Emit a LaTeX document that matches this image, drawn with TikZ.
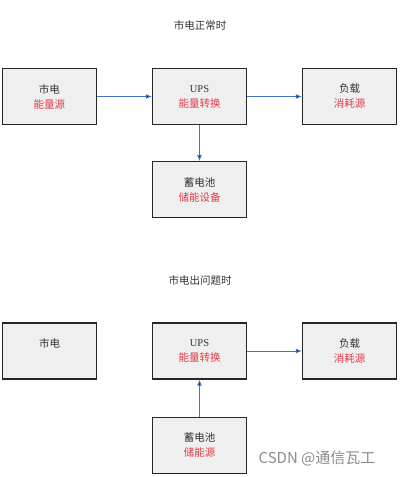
\documentclass[tikz,border=0pt]{standalone}
\usepackage{fontspec}
\setmainfont{Liberation Serif}
\newfontfamily\cjk{Noto Sans CJK SC}
\usetikzlibrary{arrows.meta,positioning}
\definecolor{boxgray}{HTML}{EFEFEF}
\definecolor{textgray}{HTML}{333333}
\definecolor{notered}{HTML}{E23B45}
\definecolor{flowblue}{HTML}{4472C4}
\newcommand{\red}[1]{\textcolor{notered}{#1}}

\begin{document}
\begin{tikzpicture}[x=1pt, y=-1pt, node distance={36pt and 54.8pt},
    main/.style = {draw=black!85, line width=1.2pt, fill=boxgray, minimum width=94pt, minimum height=56pt,
        align=center, text=textgray, font=\cjk\fontsize{10.5}{15}\selectfont},
    title/.style = {text=textgray, font=\cjk\fontsize{10.5}{12}\selectfont},
    flow/.style = {-{Latex[length=6pt,width=5pt]}, draw=flowblue, line width=0.9pt}]
    \useasboundingbox (0,0) rectangle (401,477);

    % normal mains
    \node[title] (t1) at (200,25) {市电正常时};
    \node[main] (mains) at (49.5,96.5) {市电\\\red{能量源}};
    \node[main] (ups) [right=of mains] {{\rmfamily UPS}\\\red{能量转换}};
    \node[main] (load) [right=of ups] {负载\\\red{消耗源}};
    \node[main] (batt) [below=of ups] {蓄电池\\\red{储能设备}};

    \path[flow] (mains) edge (ups);
    \path[flow] (ups) edge (load);
    \path[flow] (ups) edge (batt);

    % mains failure
    \node[title] (t2) at (200,280) {市电出问题时};
    \node[main] (mains2) at (49.5,351) {市电\\\mbox{}};
    \node[main] (ups2) [right=of mains2] {{\rmfamily UPS}\\\red{能量转换}};
    \node[main] (load2) [right=of ups2] {负载\\\red{消耗源}};
    \node[main] (batt2) [below=37pt of ups2] {蓄电池\\\red{储能源}};

    \path[flow] (ups2) edge (load2);
    \path[flow] (batt2) edge (ups2);

    \node[text=black!45, font=\cjk\fontsize{15}{18}\selectfont] (mark) at (317,458) {CSDN @通信瓦工};
\end{tikzpicture}
\end{document}
